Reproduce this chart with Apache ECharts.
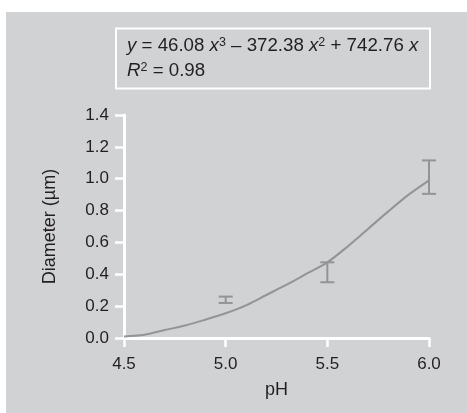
<!DOCTYPE html>
<html>
<head>
<meta charset="utf-8">
<script src="https://cdn.jsdelivr.net/npm/echarts@6/dist/echarts.min.js"></script>
<style>
html,body{margin:0;padding:0;background:#fff;}
#c{width:467px;height:413px;}
</style>
</head>
<body>
<div id="c"></div>
<script>
// Fitted curve (pH, diameter)
const curveX = [4.5, 4.6, 4.7, 4.8, 4.9, 5.0, 5.1, 5.2, 5.3, 5.4, 5.5, 5.6, 5.7, 5.8, 5.9, 6.0];
const curveY = [0.01, 0.02, 0.05, 0.078, 0.115, 0.155, 0.205, 0.27, 0.335, 0.405, 0.475, 0.575, 0.685, 0.795, 0.9, 0.99];
// Error bars
const errX = [5.0, 5.5, 6.0];
const errLow = [0.22, 0.35, 0.905];
const errHigh = [0.26, 0.475, 1.115];
// Axis ticks
const xTicks = [4.5, 5.0, 5.5, 6.0];
const yTicks = [0.0, 0.2, 0.4, 0.6, 0.8, 1.0, 1.2, 1.4];

const FONT = '"Liberation Sans", Arial, Helvetica, sans-serif';
const TXT = '#231f20';
const LINE = '#939496';

const chart = echarts.init(document.getElementById('c'), null, {renderer: 'canvas'});
const EQ = 18.7;
const richEq = {
  i: {fontStyle: 'italic', fontSize: EQ, fontFamily: FONT, fill: TXT},
  s: {fontSize: 12.5, fontFamily: FONT, verticalAlign: 'top', padding: [0, 0, 7, 0], fill: TXT}
};
const option = {
  animation: false,
  backgroundColor: '#ffffff',
  graphic: [
    {type: 'rect', shape: {x: 6, y: 12, width: 461, height: 401}, style: {fill: '#d1d2d4'}, z: -10},
    {type: 'rect', shape: {x: 116, y: 28.5, width: 314, height: 60}, style: {fill: 'transparent', stroke: '#ffffff', lineWidth: 2}, z: 1},
    {type: 'text', left: 127, top: 36, z: 2, style: {
      text: '{i|y} = 46.08 {i|x}{s|3} – 372.38 {i|x}{s|2} + 742.76 {i|x}',
      font: EQ + 'px ' + FONT, fill: TXT, rich: richEq
    }},
    {type: 'text', left: 127, top: 61, z: 2, style: {
      text: '{i|R}{s|2} = 0.98',
      font: EQ + 'px ' + FONT, fill: TXT, rich: richEq
    }}
  ],
  grid: {left: 124, right: 38, top: 115, bottom: 75, containLabel: false},
  xAxis: {
    type: 'value', min: 4.5, max: 6.0, interval: 0.5,
    name: 'pH', nameLocation: 'middle', nameGap: 43,
    nameTextStyle: {fontSize: 18, color: TXT, fontFamily: FONT},
    axisLine: {show: true, lineStyle: {color: '#ffffff', width: 3}},
    axisTick: {show: true, length: 9, lineStyle: {color: '#ffffff', width: 2.5}},
    axisLabel: {fontSize: 17, color: TXT, fontFamily: FONT, margin: 18,
      formatter: v => v.toFixed(1)},
    splitLine: {show: false}
  },
  yAxis: {
    type: 'value', min: 0, max: 1.4, interval: 0.2,
    name: 'Diameter (µm)', nameLocation: 'middle', nameGap: 65, nameRotate: 90,
    nameTextStyle: {fontSize: 18, color: TXT, fontFamily: FONT},
    axisLine: {show: true, lineStyle: {color: '#ffffff', width: 3}},
    axisTick: {show: true, length: 9, lineStyle: {color: '#ffffff', width: 2.5}},
    axisLabel: {fontSize: 17, color: TXT, fontFamily: FONT, margin: 15,
      formatter: v => v.toFixed(1)},
    splitLine: {show: false}
  },
  series: [
    {
      type: 'line',
      data: curveX.map((x, i) => [x, curveY[i]]),
      showSymbol: false,
      smooth: 0.3,
      lineStyle: {color: LINE, width: 2},
      z: 3
    },
    {
      type: 'custom',
      data: errX.map((x, i) => [x, errLow[i], errHigh[i]]),
      renderItem: function (params, api) {
        const lo = api.coord([api.value(0), api.value(1)]);
        const hi = api.coord([api.value(0), api.value(2)]);
        const hw = 7;
        const st = {stroke: LINE, lineWidth: 2};
        return {
          type: 'group',
          children: [
            {type: 'line', shape: {x1: lo[0], y1: lo[1], x2: hi[0], y2: hi[1]}, style: st},
            {type: 'line', shape: {x1: lo[0] - hw, y1: lo[1], x2: lo[0] + hw, y2: lo[1]}, style: st},
            {type: 'line', shape: {x1: hi[0] - hw, y1: hi[1], x2: hi[0] + hw, y2: hi[1]}, style: st}
          ]
        };
      },
      z: 4
    }
  ]
};
chart.setOption(option);
</script>
</body>
</html>
